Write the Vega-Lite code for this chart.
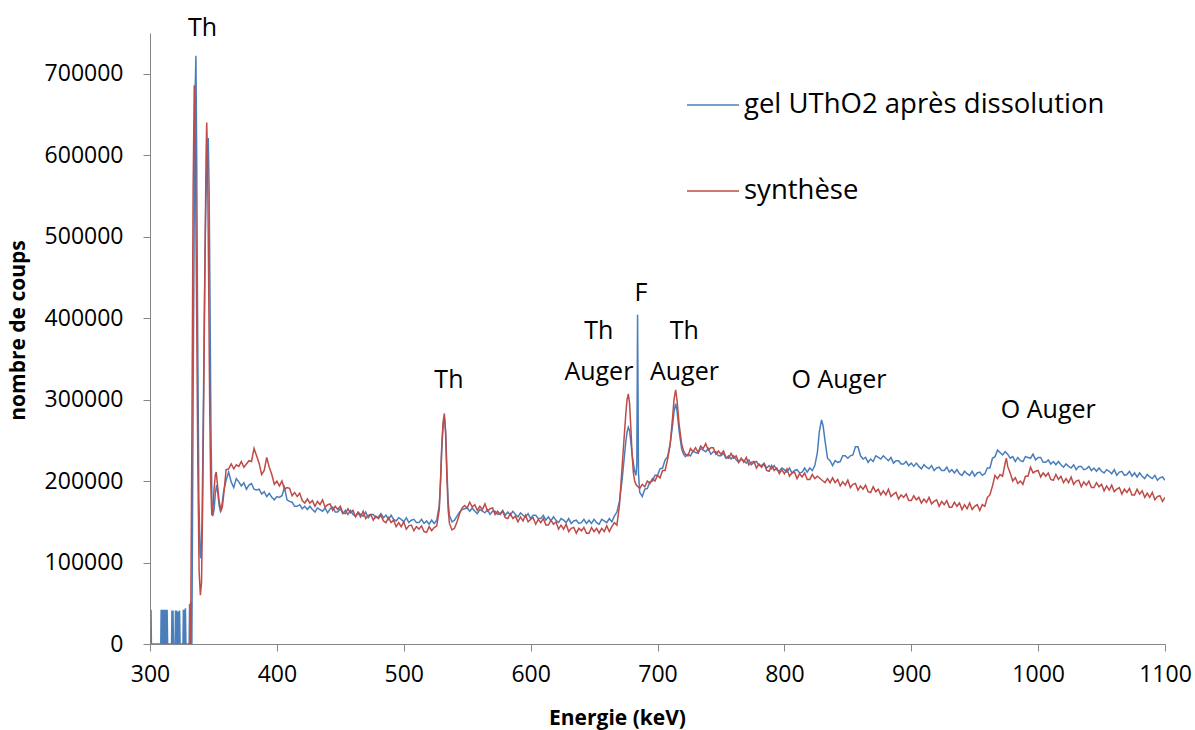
{
"$schema": "https://vega.github.io/schema/vega-lite/v6.json",
"width": 1015, "height": 611,
"autosize": {"type": "none"},
"padding": {"left": 150, "top": 33, "right": 30, "bottom": 86},
"background": "white",
"config": {"view": {"stroke": null}, "font": "Open Sans"},
"datasets": {
"spectre": [
{"E":300,"g":0},{"E":300.5,"g":0},{"E":300.8,"g":42000},{"E":301.1,"g":0},
{"E":308.5,"g":0},{"E":308.8,"g":42000},{"E":309.2,"g":0},{"E":309.5,"g":42000},{"E":309.9,"g":0},{"E":310.3,"g":42000},{"E":310.7,"g":0},{"E":311.1,"g":42000},{"E":311.5,"g":0},{"E":311.9,"g":42000},{"E":312.3,"g":0},{"E":312.7,"g":42000},{"E":313.1,"g":0},{"E":313.5,"g":42000},{"E":313.9,"g":0},
{"E":317.0,"g":0},{"E":317.3,"g":41000},{"E":317.7,"g":0},{"E":318.1,"g":41000},{"E":318.5,"g":0},
{"E":319.8,"g":0},{"E":320.1,"g":41000},{"E":320.5,"g":0},{"E":320.9,"g":41000},{"E":321.3,"g":0},{"E":321.7,"g":40000},{"E":322.1,"g":0},{"E":322.5,"g":40000},{"E":322.9,"g":0},{"E":323.3,"g":41000},{"E":323.7,"g":0},
{"E":326.0,"g":0},{"E":326.3,"g":42000},{"E":326.7,"g":0},{"E":327.1,"g":42000},{"E":327.5,"g":0},{"E":327.9,"g":44000},{"E":328.3,"g":0},
{"E":330.9,"g":0},{"E":331.2,"g":49000},{"E":331.6,"g":0},{"E":332.0,"g":52000,"s":0},{"E":332.4,"g":0},
{"E":333.0,"g":0,"s":250000},{"E":334.0,"g":300000,"s":560000},{"E":334.9,"s":686000},{"E":335.0,"g":560000},{"E":335.6,"g":680000},{"E":335.8,"s":600000},{"E":336.2,"g":722000},{"E":336.7,"s":420000},{"E":336.8,"g":600000},{"E":337.5,"g":400000},{"E":337.7,"s":220000},{"E":338.5,"g":180000},{"E":338.7,"s":90000},{"E":339.5,"g":110000},{"E":339.7,"s":60000},{"E":340.2,"g":105000},{"E":340.6,"s":75000},{"E":341.0,"g":150000},{"E":341.5,"s":170000},{"E":342.0,"g":280000},{"E":342.5,"s":330000},{"E":343.0,"g":430000},{"E":343.5,"s":500000},{"E":344.0,"g":540000},{"E":344.2,"s":600000},{"E":344.7,"s":640000},{"E":345.0,"g":600000},{"E":345.4,"s":590000},{"E":345.9,"g":621000},{"E":346.2,"s":450000},{"E":346.6,"g":560000},{"E":347.0,"s":300000},{"E":347.3,"g":420000},{"E":347.8,"s":200000},{"E":348.0,"g":270000},{"E":348.7,"s":158000},{"E":348.8,"g":175000},{"E":349.5,"g":157000,"s":165000},{"E":350.5,"g":165000,"s":190000},{"E":351.5,"g":185000,"s":208000},{"E":352.2,"s":211000},{"E":352.5,"g":195000},{"E":353.2,"s":195000},{"E":353.5,"g":185000},{"E":354.5,"g":170000,"s":175000},{"E":355.5,"g":163000},{"E":356.0,"s":164000},{"E":356.5,"g":168000},{"E":357.0,"s":168000},
{"E":358,"g":187000,"s":182000},{"E":360,"g":201000,"s":214000},{"E":362,"g":211000,"s":215000},{"E":364,"g":199000,"s":221000},{"E":366,"g":192000,"s":215000},{"E":368,"g":203000,"s":220000},{"E":370,"g":199000,"s":218000},{"E":372,"g":194000,"s":224000},{"E":374,"g":198000,"s":217000},{"E":376,"g":190000,"s":221000},{"E":378,"g":195000,"s":225000},{"E":380,"g":197000,"s":224000},{"E":382,"g":190000,"s":240000},{"E":384,"g":189000,"s":231000},{"E":386,"g":190000,"s":222000},{"E":388,"g":184000,"s":208000},{"E":390,"g":187000,"s":213000},{"E":392,"g":181000,"s":229000},{"E":394,"g":185000,"s":217000},{"E":396,"g":180000,"s":208000},{"E":398,"g":177000,"s":196000},{"E":400,"g":181000,"s":200000},{"E":402,"g":180000,"s":194000},{"E":404,"g":182000,"s":200000},{"E":406,"g":192000,"s":190000},{"E":408,"g":177000,"s":192000},{"E":410,"g":175000,"s":191000},{"E":412,"g":174000,"s":182000},{"E":414,"g":169000,"s":186000},{"E":416,"g":169000,"s":181000},{"E":418,"g":171000,"s":185000},{"E":420,"g":166000,"s":176000},{"E":422,"g":169000,"s":173000},{"E":424,"g":165000,"s":178000},{"E":426,"g":169000,"s":173000},{"E":428,"g":165000,"s":176000},{"E":430,"g":162000,"s":169000},{"E":432,"g":167000,"s":175000},{"E":434,"g":165000,"s":171000},{"E":436,"g":163000,"s":177000},{"E":438,"g":167000,"s":168000},{"E":440,"g":161000,"s":171000},{"E":442,"g":166000,"s":172000},{"E":444,"g":168000,"s":164000},{"E":446,"g":162000,"s":169000},{"E":448,"g":162000,"s":165000},{"E":450,"g":166000,"s":169000},{"E":452,"g":160000,"s":161000},{"E":454,"g":164000,"s":160000},{"E":456,"g":159000,"s":166000},{"E":458,"g":164000,"s":161000},{"E":460,"g":159000,"s":164000},{"E":462,"g":157000,"s":156000},{"E":464,"g":162000,"s":161000},{"E":466,"g":159000,"s":156000},{"E":468,"g":157000,"s":163000},{"E":470,"g":162000,"s":154000},{"E":472,"g":155000,"s":158000},{"E":474,"g":159000,"s":159000},{"E":476,"g":159000,"s":152000},{"E":478,"g":155000,"s":157000},{"E":480,"g":156000,"s":154000},{"E":482,"g":160000,"s":158000},{"E":484,"g":155000,"s":151000},{"E":486,"g":158000,"s":149000},{"E":488,"g":153000,"s":155000},{"E":490,"g":158000,"s":149000},{"E":492,"g":153000,"s":152000},{"E":494,"g":151000,"s":144000},{"E":496,"g":155000,"s":149000},{"E":498,"g":153000,"s":144000},{"E":500,"g":150000,"s":150000},{"E":502,"g":155000,"s":141000},{"E":504,"g":149000,"s":145000},{"E":506,"g":152000,"s":146000},{"E":508,"g":153000,"s":139000},{"E":510,"g":149000,"s":144000},{"E":512,"g":149000,"s":141000},{"E":514,"g":153000,"s":145000},{"E":516,"g":148000,"s":138000},{"E":518,"g":151000,"s":137000},{"E":520,"g":147000,"s":144000},{"E":522,"g":152000,"s":139000},{"E":524,"g":148000,"s":143000},{"E":526,"g":152000,"s":145000},
{"E":528,"g":170000,"s":165000},{"E":529,"g":200000,"s":200000},{"E":530,"g":240000,"s":245000},{"E":531,"g":268000,"s":272000},{"E":532,"g":279000,"s":283000},{"E":533,"g":262000,"s":258000},{"E":534,"g":215000,"s":205000},{"E":535,"g":175000,"s":165000},{"E":536,"g":158000,"s":148000},{"E":538,"g":150000,"s":140000},{"E":540,"g":152000,"s":142000},{"E":542,"g":157000,"s":150000},{"E":544,"g":162000,"s":160000},{"E":546,"g":165000,"s":167000},{"E":548,"g":166000,"s":170000},
{"E":550,"g":167000,"s":167000},{"E":552,"g":163000,"s":174000},{"E":554,"g":167000,"s":168000},{"E":556,"g":163000,"s":171000},{"E":558,"g":160000,"s":164000},{"E":560,"g":165000,"s":169000},{"E":562,"g":163000,"s":165000},{"E":564,"g":161000,"s":172000},{"E":566,"g":165000,"s":163000},{"E":568,"g":159000,"s":166000},{"E":570,"g":163000,"s":167000},{"E":572,"g":163000,"s":159000},{"E":574,"g":159000,"s":163000},{"E":576,"g":160000,"s":159000},{"E":578,"g":164000,"s":163000},{"E":580,"g":158000,"s":155000},{"E":582,"g":162000,"s":154000},{"E":584,"g":158000,"s":160000},{"E":586,"g":163000,"s":154000},{"E":588,"g":159000,"s":157000},{"E":590,"g":156000,"s":150000},{"E":592,"g":161000,"s":156000},{"E":594,"g":158000,"s":151000},{"E":596,"g":156000,"s":158000},{"E":598,"g":160000,"s":150000},{"E":600,"g":154000,"s":153000},{"E":602,"g":158000,"s":155000},{"E":604,"g":158000,"s":147000},{"E":606,"g":154000,"s":153000},{"E":608,"g":154000,"s":149000},{"E":610,"g":158000,"s":154000},{"E":612,"g":152000,"s":146000},{"E":614,"g":156000,"s":146000},{"E":616,"g":151000,"s":152000},{"E":618,"g":156000,"s":147000},{"E":620,"g":152000,"s":150000},{"E":622,"g":149000,"s":141000},{"E":624,"g":154000,"s":146000},{"E":626,"g":152000,"s":141000},{"E":628,"g":149000,"s":147000},{"E":630,"g":154000,"s":138000},{"E":632,"g":148000,"s":142000},{"E":634,"g":151000,"s":143000},{"E":636,"g":152000,"s":136000},{"E":638,"g":148000,"s":142000},{"E":640,"g":149000,"s":139000},{"E":642,"g":153000,"s":143000},{"E":644,"g":148000,"s":136000},{"E":646,"g":152000,"s":136000},{"E":648,"g":148000,"s":143000},{"E":650,"g":153000,"s":138000},{"E":652,"g":149000,"s":142000},{"E":654,"g":147000,"s":136000},{"E":656,"g":153000,"s":142000},{"E":658,"g":151000,"s":138000},{"E":660,"g":149000,"s":145000},{"E":662,"g":154000,"s":138000},{"E":664,"g":150000,"s":144000},{"E":666,"g":157000,"s":149000},{"E":668,"g":162000,"s":146000},
{"E":670,"g":175000,"s":170000},{"E":672,"g":200000,"s":215000},{"E":674,"g":232000,"s":260000},{"E":675,"g":248000,"s":282000},{"E":676,"g":260000,"s":300000},{"E":677,"g":266000,"s":307000},{"E":678,"g":262000,"s":295000},{"E":679,"g":248000,"s":265000},{"E":680,"g":232000,"s":232000},{"E":681,"g":222000,"s":210000},{"E":682,"g":212000,"s":200000},{"E":683,"g":207000,"s":196000},{"E":683.7,"g":220000},{"E":684,"s":194000},{"E":684.3,"g":404000},{"E":685,"g":210000},
{"E":686,"g":186000,"s":191000},{"E":688,"g":181000,"s":196000},{"E":690,"g":190000,"s":193000},{"E":692,"g":191000,"s":200000},{"E":694,"g":199000,"s":197000},{"E":696,"g":200000,"s":203000},{"E":698,"g":207000,"s":200000},{"E":700,"g":207000,"s":207000},{"E":702,"g":215000,"s":204000},{"E":704,"g":216000,"s":213000},{"E":706,"g":226000,"s":213000},{"E":708,"g":230000,"s":227000},{"E":710,"g":246000,"s":245000},{"E":712,"g":270000,"s":280000},{"E":713,"g":285000,"s":300000},{"E":714.3,"g":295000,"s":312000},{"E":715.5,"g":285000,"s":298000},{"E":717,"g":262000,"s":270000},{"E":719,"g":240000,"s":246000},{"E":720.5,"g":233000,"s":237000},{"E":722,"g":230000,"s":233000},
{"E":724,"g":233000,"s":231000},{"E":726,"g":231000,"s":240000},{"E":728,"g":237000,"s":236000},{"E":730,"g":235000,"s":241000},{"E":732,"g":234000,"s":235000},{"E":734,"g":240000,"s":243000},{"E":736,"g":238000,"s":240000},{"E":738,"g":236000,"s":246000},{"E":740,"g":240000,"s":238000},{"E":742,"g":233000,"s":241000},{"E":744,"g":236000,"s":241000},{"E":746,"g":236000,"s":233000},{"E":748,"g":231000,"s":237000},{"E":750,"g":231000,"s":233000},{"E":752,"g":234000,"s":237000},{"E":754,"g":228000,"s":229000},{"E":756,"g":231000,"s":228000},{"E":758,"g":227000,"s":234000},{"E":760,"g":231000,"s":228000},{"E":762,"g":226000,"s":231000},{"E":764,"g":223000,"s":223000},{"E":766,"g":227000,"s":228000},{"E":768,"g":225000,"s":223000},{"E":770,"g":222000,"s":229000},{"E":772,"g":226000,"s":220000},{"E":774,"g":220000,"s":223000},{"E":776,"g":223000,"s":224000},{"E":778,"g":224000,"s":216000},{"E":780,"g":219000,"s":221000},{"E":782,"g":219000,"s":217000},{"E":784,"g":222000,"s":221000},{"E":786,"g":216000,"s":213000},{"E":788,"g":219000,"s":212000},{"E":790,"g":215000,"s":219000},{"E":792,"g":219000,"s":213000},{"E":794,"g":214000,"s":216000},{"E":796,"g":212000,"s":209000},{"E":798,"g":216000,"s":214000},{"E":800,"g":214000,"s":209000},{"E":802,"g":211000,"s":215000},{"E":804,"g":216000,"s":206000},{"E":806,"g":210000,"s":210000},{"E":808,"g":213000,"s":211000},{"E":810,"g":214000,"s":203000},{"E":812,"g":210000,"s":209000},{"E":814,"g":211000,"s":205000},{"E":816,"g":216000,"s":210000},{"E":818,"g":211000,"s":202000},{"E":820,"g":216000,"s":202000},{"E":822,"g":213000,"s":208000},{"E":824,"g":219000,"s":203000},{"E":826,"g":235000,"s":206000},{"E":827.5,"g":260000},{"E":829.3,"g":275000},{"E":830.5,"g":268000},{"E":832,"g":250000,"s":198000},{"E":834,"g":228000,"s":203000},
{"E":836,"g":225000,"s":198000},{"E":838,"g":219000,"s":204000},{"E":840,"g":225000,"s":198000},{"E":842,"g":223000,"s":202000},{"E":844,"g":224000,"s":194000},{"E":846,"g":231000,"s":199000},{"E":848,"g":231000,"s":195000},{"E":850,"g":228000,"s":201000},{"E":852,"g":231000,"s":192000},{"E":854,"g":232000,"s":196000},{"E":856,"g":242000,"s":197000},{"E":858,"g":242000,"s":189000},{"E":860,"g":231000,"s":194000},{"E":862,"g":227000,"s":190000},{"E":864,"g":229000,"s":195000},{"E":866,"g":223000,"s":187000},{"E":868,"g":227000,"s":186000},{"E":870,"g":224000,"s":193000},{"E":872,"g":231000,"s":187000},{"E":874,"g":229000,"s":190000},{"E":876,"g":227000,"s":183000},{"E":878,"g":231000,"s":188000},{"E":880,"g":228000,"s":183000},{"E":882,"g":225000,"s":190000},{"E":884,"g":229000,"s":181000},{"E":886,"g":222000,"s":184000},{"E":888,"g":225000,"s":186000},{"E":890,"g":225000,"s":178000},{"E":892,"g":221000,"s":183000},{"E":894,"g":221000,"s":180000},{"E":896,"g":224000,"s":184000},{"E":898,"g":219000,"s":176000},{"E":900,"g":222000,"s":176000},{"E":902,"g":218000,"s":182000},{"E":904,"g":222000,"s":177000},{"E":906,"g":218000,"s":180000},{"E":908,"g":215000,"s":173000},{"E":910,"g":220000,"s":178000},{"E":912,"g":217000,"s":174000},{"E":914,"g":215000,"s":180000},{"E":916,"g":219000,"s":172000},{"E":918,"g":213000,"s":175000},{"E":920,"g":216000,"s":177000},{"E":922,"g":217000,"s":169000},{"E":924,"g":213000,"s":175000},{"E":926,"g":213000,"s":171000},{"E":928,"g":217000,"s":176000},{"E":930,"g":211000,"s":168000},{"E":932,"g":214000,"s":168000},{"E":934,"g":210000,"s":174000},{"E":936,"g":214000,"s":169000},{"E":938,"g":209000,"s":173000},{"E":940,"g":207000,"s":165000},{"E":942,"g":212000,"s":171000},{"E":944,"g":209000,"s":166000},{"E":946,"g":207000,"s":173000},{"E":948,"g":212000,"s":165000},{"E":950,"g":206000,"s":169000},{"E":952,"g":210000,"s":171000},{"E":954,"g":211000,"s":164000},{"E":956,"g":207000,"s":171000},{"E":958,"g":209000,"s":169000},{"E":960,"g":216000,"s":180000},{"E":962,"g":216000,"s":183000},{"E":964,"g":228000,"s":194000},{"E":966,"g":230000,"s":207000},{"E":968,"g":238000,"s":203000},{"E":970,"g":235000,"s":208000},{"E":972,"g":232000,"s":206000},{"E":974,"g":236000,"s":222000},{"E":975,"s":228000},{"E":976,"g":233000,"s":218000},{"E":978,"g":228000,"s":210000},
{"E":980,"g":230000,"s":200000},{"E":982,"g":224000,"s":204000},{"E":984,"g":229000,"s":197000},{"E":986,"g":225000,"s":200000},{"E":988,"g":224000,"s":196000},{"E":990,"g":230000,"s":206000},{"E":992,"g":229000,"s":206000},{"E":994,"g":228000,"s":217000},{"E":996,"g":233000,"s":210000},{"E":998,"g":226000,"s":212000},{"E":1000,"g":229000,"s":213000},{"E":1002,"g":229000,"s":205000},{"E":1004,"g":223000,"s":210000},{"E":1006,"g":223000,"s":206000},{"E":1008,"g":226000,"s":210000},{"E":1010,"g":221000,"s":202000},{"E":1012,"g":224000,"s":201000},{"E":1014,"g":220000,"s":208000},{"E":1016,"g":224000,"s":202000},{"E":1018,"g":220000,"s":206000},{"E":1020,"g":217000,"s":198000},{"E":1022,"g":221000,"s":203000},{"E":1024,"g":218000,"s":198000},{"E":1026,"g":216000,"s":205000},{"E":1028,"g":220000,"s":196000},{"E":1030,"g":214000,"s":200000},{"E":1032,"g":218000,"s":201000},{"E":1034,"g":218000,"s":193000},{"E":1036,"g":214000,"s":199000},{"E":1038,"g":215000,"s":195000},{"E":1040,"g":218000,"s":200000},{"E":1042,"g":213000,"s":192000},{"E":1044,"g":216000,"s":192000},{"E":1046,"g":212000,"s":198000},{"E":1048,"g":216000,"s":193000},{"E":1050,"g":212000,"s":196000},{"E":1052,"g":210000,"s":188000},{"E":1054,"g":214000,"s":194000},{"E":1056,"g":212000,"s":189000},{"E":1058,"g":209000,"s":195000},{"E":1060,"g":214000,"s":187000},{"E":1062,"g":207000,"s":190000},{"E":1064,"g":211000,"s":192000},{"E":1066,"g":212000,"s":184000},{"E":1068,"g":207000,"s":190000},{"E":1070,"g":208000,"s":186000},{"E":1072,"g":212000,"s":191000},{"E":1074,"g":206000,"s":183000},{"E":1076,"g":210000,"s":183000},{"E":1078,"g":205000,"s":190000},{"E":1080,"g":210000,"s":184000},{"E":1082,"g":206000,"s":188000},{"E":1084,"g":203000,"s":180000},{"E":1086,"g":208000,"s":185000},{"E":1088,"g":205000,"s":180000},{"E":1090,"g":203000,"s":186000},{"E":1092,"g":207000,"s":177000},{"E":1094,"g":201000,"s":181000},{"E":1096,"g":204000,"s":182000},{"E":1098,"g":205000,"s":175000},{"E":1100,"g":201000,"s":180000}
],
"etiquettes": [
{"E":341.4,"v":755800,"t":"Th"},
{"E":535.6,"v":323900,"t":"Th"},
{"E":653.8,"v":384000,"t":"Th"},
{"E":653.8,"v":333700,"t":"Auger"},
{"E":686.9,"v":430700,"t":"F"},
{"E":721.2,"v":384000,"t":"Th"},
{"E":721.2,"v":333700,"t":"Auger"},
{"E":843,"v":323900,"t":"O Auger"},
{"E":1008,"v":287100,"t":"O Auger"}
]
},
"layer": [
{
"data": {"name": "spectre"},
"transform": [{"filter": "isValid(datum.g)"}],
"mark": {"type": "line", "strokeWidth": 1.5, "clip": true},
"encoding": {
"x": {"field": "E", "type": "quantitative",
"scale": {"domain": [300, 1100], "nice": false, "zero": false},
"axis": {"values": [300,400,500,600,700,800,900,1000,1100], "format": "d", "title": "Energie (keV)", "grid": false,
"labelFont": "Open Sans", "labelFontSize": 23, "labelColor": "#000000", "labelFlush": false, "labelOverlap": false,
"tickSize": 7, "tickColor": "#868686", "domainColor": "#868686", "labelPadding": 12,
"titleFont": "Open Sans", "titleFontSize": 21, "titleFontWeight": "bold", "titleColor": "#000000",
"titleX": 467, "titleY": 74, "titleBaseline": "middle", "titleAlign": "center", "zindex": 1}},
"y": {"field": "g", "type": "quantitative",
"scale": {"domain": [0, 750000], "nice": false},
"axis": {"values": [0,100000,200000,300000,400000,500000,600000,700000], "format": "d", "title": "nombre de coups", "grid": false,
"labelFont": "Open Sans", "labelFontSize": 23, "labelColor": "#000000",
"tickSize": 7, "tickColor": "#868686", "domainColor": "#868686", "labelPadding": 20,
"titleFont": "Open Sans", "titleFontSize": 21, "titleFontWeight": "bold", "titleColor": "#000000",
"titleX": -132, "titleY": 297, "titleAngle": -90, "titleBaseline": "middle", "titleAlign": "center", "zindex": 1}},
"color": {"datum": "gel UThO2 après dissolution", "type": "nominal",
"scale": {"domain": ["gel UThO2 après dissolution", "synthèse"], "range": ["#4A7EBB", "#BE4B48"]},
"legend": {"orient": "none", "legendX": 536, "legendY": 45, "title": null, "symbolType": "stroke",
"symbolSize": 2704, "symbolStrokeWidth": 1.5, "labelFont": "Open Sans", "labelFontSize": 27.5, "labelColor": "#000000",
"labelLimit": 600, "labelOffset": 4, "rowPadding": 45, "padding": 0}}
}
},
{
"data": {"name": "spectre"},
"transform": [{"filter": "isValid(datum.s)"}],
"mark": {"type": "line", "strokeWidth": 1.5, "clip": true},
"encoding": {
"x": {"field": "E", "type": "quantitative"},
"y": {"field": "s", "type": "quantitative", "title": "nombre de coups"},
"color": {"datum": "synthèse", "type": "nominal"}
}
},
{
"data": {"name": "etiquettes"},
"mark": {"type": "text", "font": "Open Sans", "fontSize": 25, "color": "#000000", "align": "center", "baseline": "middle"},
"encoding": {
"x": {"field": "E", "type": "quantitative"},
"y": {"field": "v", "type": "quantitative", "title": "nombre de coups"},
"text": {"field": "t"}
}
}
]
}
